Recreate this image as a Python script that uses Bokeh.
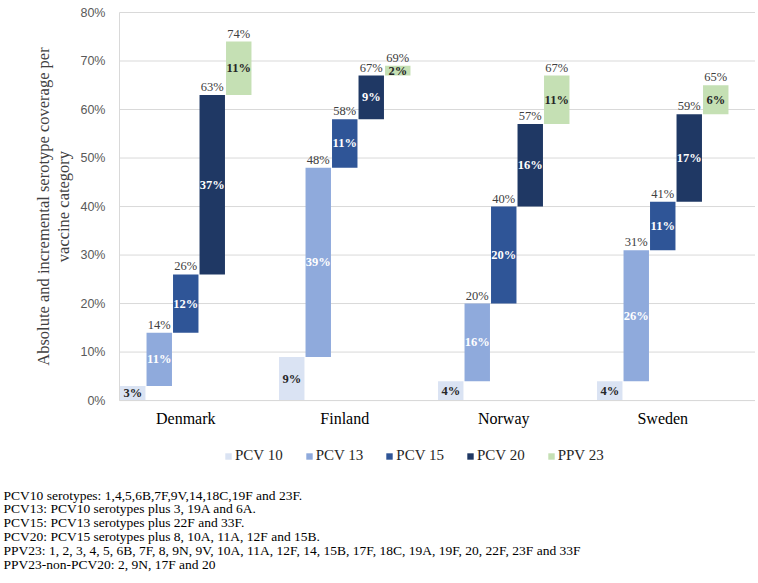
import math
from bokeh.plotting import figure
from bokeh.models import (ColumnDataSource, Range1d, FixedTicker, PrintfTickFormatter,
                          Legend, LegendItem, Title, Label)
from bokeh.core.properties import value
from bokeh.embed import file_html
from bokeh.resources import INLINE

# ---------------- data ----------------
countries = ["Denmark", "Finland", "Norway", "Sweden"]
vaccines = ["PCV 10", "PCV 13", "PCV 15", "PCV 20", "PPV 23"]

# cumulative (absolute) coverage, % per vaccine category
denmark_cum = [3, 14, 26, 63, 74]
finland_cum = [9, 48, 58, 67, 69]
norway_cum = [4, 20, 40, 57, 67]
sweden_cum = [4, 31, 41, 59, 65]

# incremental coverage, % per vaccine category
denmark_inc = [3, 11, 12, 37, 11]
finland_inc = [9, 39, 11, 9, 2]
norway_inc = [4, 16, 20, 16, 11]
sweden_inc = [4, 26, 11, 17, 6]

y_ticks = [0, 10, 20, 30, 40, 50, 60, 70, 80]

y_title_lines = ["Absolute and incremental serotype coverage per", "vaccine category"]

footnotes = [
    "PCV10 serotypes: 1,4,5,6B,7F,9V,14,18C,19F and 23F.",
    "PCV13: PCV10 serotypes plus 3, 19A and 6A.",
    "PCV15: PCV13 serotypes plus 22F and 33F.",
    "PCV20: PCV15 serotypes plus 8, 10A, 11A, 12F and 15B.",
    "PPV23: 1, 2, 3, 4, 5, 6B, 7F, 8, 9N, 9V, 10A, 11A, 12F, 14, 15B, 17F, 18C, 19A, 19F, 20, 22F, 23F and 33F",
    "PPV23-non-PCV20: 2, 9N, 17F and 20",
]

# ---------------- styling ----------------
bar_colors = ["#DAE3F3", "#8FAADC", "#2F5597", "#1F3864", "#C5E0B4"]
inside_text_colors = ["#262626", "white", "white", "white", "#262626"]
SERIF = "Liberation Serif"
SANS = "Liberation Sans"
GRID = "#D9D9D9"

cum = [denmark_cum, finland_cum, norway_cum, sweden_cum]
inc = [denmark_inc, finland_inc, norway_inc, sweden_inc]
slots_per_country = len(vaccines) + 1
n_slots = len(countries) * slots_per_country

# ---------------- geometry ----------------
# the frame covers the whole width/height above the notes; plotting area starts 119 px in
PLOT_LEFT_PX = 119
SLOT_PX = 26.5
PX_PER_PCT = 4.851
TOP_PAD_PX = 12
FRAME_W, FRAME_H = 755, 485
X_LEFT, X_RIGHT = -0.5, n_slots - 0.5
X_START = X_LEFT - PLOT_LEFT_PX / SLOT_PX
Y_END = y_ticks[-1] + TOP_PAD_PX / PX_PER_PCT
Y_START = Y_END - FRAME_H / PX_PER_PCT

p = figure(frame_width=FRAME_W, frame_height=FRAME_H, output_backend="svg", toolbar_location=None,
           x_range=Range1d(X_START, X_RIGHT), y_range=Range1d(Y_START, Y_END),
           min_border_left=0, min_border_right=0, min_border_top=0, min_border_bottom=0)

# horizontal gridlines only across the plotting area
p.segment(x0=[X_LEFT] * len(y_ticks), x1=[X_RIGHT] * len(y_ticks), y0=y_ticks, y1=y_ticks,
          line_color=GRID, line_width=1)

renderers = []
for k, vac in enumerate(vaccines):
    xs, tops, bottoms, mids, inc_lab, cum_lab = [], [], [], [], [], []
    for c in range(len(countries)):
        t = cum[c][k]
        b = cum[c][k - 1] if k > 0 else 0
        xs.append(c * slots_per_country + k)
        tops.append(t)
        bottoms.append(b)
        mids.append((t + b) / 2)
        inc_lab.append(f"{inc[c][k]}%")
        cum_lab.append(f"{t}%")
    src = ColumnDataSource(dict(x=xs, top=tops, bottom=bottoms, mid=mids,
                                inc_lab=inc_lab, cum_lab=cum_lab))
    r = p.vbar(x="x", top="top", bottom="bottom", width=0.96, source=src,
               fill_color=bar_colors[k], line_color=None)
    renderers.append(r)
    p.text(x="x", y="mid", text="inc_lab", source=src, text_align="center",
           text_baseline="middle", text_font=value(SERIF), text_font_size="12.5px",
           text_font_style="bold", text_color=inside_text_colors[k])
    if k > 0:
        p.text(x="x", y="top", text="cum_lab", source=src, text_align="center",
               text_baseline="bottom", y_offset=-1, text_font=value(SERIF),
               text_font_size="12.5px", text_color="#404040")

# axes (placed inside the frame)
p.xaxis.fixed_location = 0
p.xaxis.bounds = (X_LEFT, X_RIGHT)
p.xaxis.ticker = FixedTicker(ticks=[c * slots_per_country + 2 for c in range(len(countries))])
p.xaxis.major_label_overrides = {c * slots_per_country + 2: name for c, name in enumerate(countries)}
p.xaxis.major_tick_line_color = None
p.xaxis.minor_tick_line_color = None
p.xaxis.axis_line_color = GRID
p.xaxis.major_label_text_font = SERIF
p.xaxis.major_label_text_font_size = "16px"
p.xaxis.major_label_text_color = "#000000"
p.xaxis.major_label_standoff = 3

p.yaxis.fixed_location = X_LEFT
p.yaxis.bounds = (0, 80)
p.yaxis.ticker = FixedTicker(ticks=y_ticks)
p.yaxis.formatter = PrintfTickFormatter(format="%d%%")
p.yaxis.major_tick_line_color = None
p.yaxis.minor_tick_line_color = None
p.yaxis.axis_line_color = GRID
p.yaxis.major_label_text_font = SANS
p.yaxis.major_label_text_font_size = "12.5px"
p.yaxis.major_label_text_color = "#595959"
p.yaxis.major_label_standoff = 8

# y-axis title: two rotated lines centred on the 0-80% span
y_mid = (y_ticks[0] + y_ticks[-1]) / 2
for line, px in zip(y_title_lines, [43, 63]):
    p.add_layout(Label(x=X_START + px / SLOT_PX, y=y_mid, text=line,
                       angle=math.pi / 2, text_align="center", text_baseline="middle",
                       text_font=SERIF, text_font_size="16.5px", text_color="#404040"))

p.xgrid.grid_line_color = None
p.ygrid.grid_line_color = None
p.outline_line_color = None

legend = Legend(items=[LegendItem(label=v, renderers=[r]) for v, r in zip(vaccines, renderers)],
                orientation="horizontal", location=(224, 21),
                glyph_width=8, glyph_height=8, label_standoff=3, spacing=22,
                label_text_font=SERIF, label_text_font_size="15px",
                label_text_color="#262626", border_line_color=None,
                background_fill_alpha=0, margin=0, padding=0)
p.add_layout(legend, "center")

p.add_layout(Title(text="\n".join(footnotes), align="left", offset=3, standoff=4,
                   vertical_align="top",
                   text_font=SERIF, text_font_size="13.5px", text_font_style="normal",
                   text_color="#000000", text_line_height=0.92), "below")

open("out.html", "w").write(file_html(p, INLINE))
